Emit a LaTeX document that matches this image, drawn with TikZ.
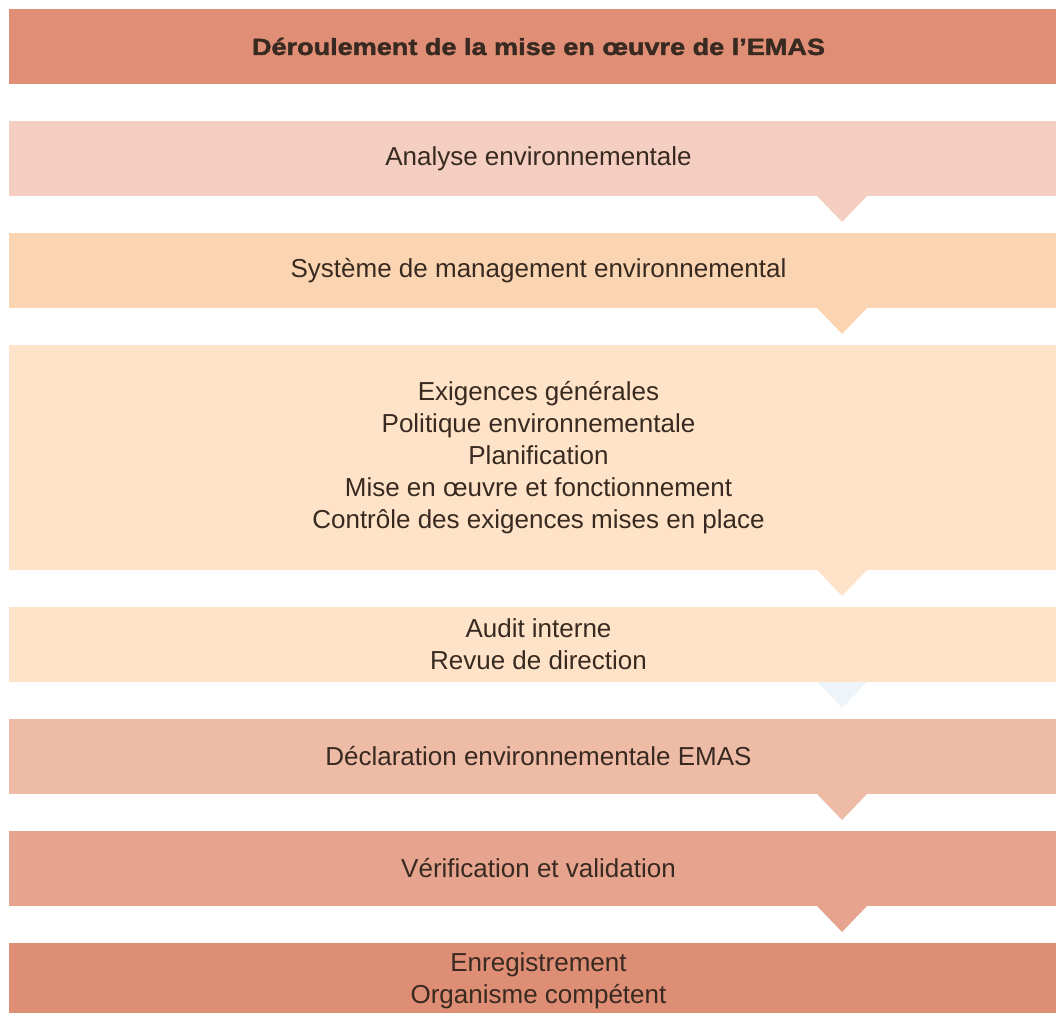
\documentclass[tikz,border=0pt]{standalone}
\usepackage{fontspec}
\setmainfont{Liberation Sans}
\newfontfamily\headfont[FakeStretch=1.16,FakeBold=1.8]{Liberation Sans}
\usetikzlibrary{positioning}
\definecolor{txtcol}{HTML}{382A20}
\definecolor{headcol}{HTML}{E08E76}
\definecolor{anacol}{HTML}{F4CFC1}
\definecolor{syscol}{HTML}{FBD4B2}
\definecolor{reqcol}{HTML}{FEE3C8}
\definecolor{audcol}{HTML}{FEE3C8}
\definecolor{bluecol}{HTML}{EDF5FA}
\definecolor{declcol}{HTML}{EEBBA6}
\definecolor{vercol}{HTML}{E6A48E}
\definecolor{regcol}{HTML}{DF8E76}
\newcommand{\downtip}[2]{\fill[#2] ([xshift=208.9pt]#1.south) -- ++(37.5pt,0) -- ++(-18.75pt,-19.5pt) -- cycle;}

\begin{document}
\begin{tikzpicture}[node distance=27.75pt,
    block/.style={rectangle, fill=#1, text=txtcol, minimum width=794.25pt, minimum height=56.25pt,
        inner sep=0pt, outer sep=0pt, align=center, font=\fontsize{19.5pt}{24pt}\selectfont},
    head/.style={block=headcol, font=\headfont\bfseries\fontsize{17.5pt}{21pt}\selectfont}]

    \useasboundingbox (0,0) rectangle (792pt,-759.75pt);

    \node [head, anchor=north west] (title) at (6.75pt,-6.75pt) {Déroulement de la mise en œuvre de l’EMAS};
    \node [block=anacol, below=of title] (ana) {Analyse environnementale};
    \node [block=syscol, below=of ana] (sys) {Système de management environnemental};
    \node [block=reqcol, minimum height=168.75pt, below=of sys] (req) {Exigences générales\\Politique environnementale\\Planification\\Mise en œuvre et fonctionnement\\Contrôle des exigences mises en place};
    \node [block=audcol, below=of req] (aud) {Audit interne\\Revue de direction};
    \node [block=declcol, below=of aud] (decl) {Déclaration environnementale EMAS};
    \node [block=vercol, below=of decl] (ver) {Vérification et validation};
    \node [block=regcol, below=of ver] (reg) {Enregistrement\\Organisme compétent};

    \downtip{ana}{anacol}
    \downtip{sys}{syscol}
    \downtip{req}{reqcol}
    \downtip{aud}{bluecol}
    \downtip{decl}{declcol}
    \downtip{ver}{vercol}
\end{tikzpicture}
\end{document}
